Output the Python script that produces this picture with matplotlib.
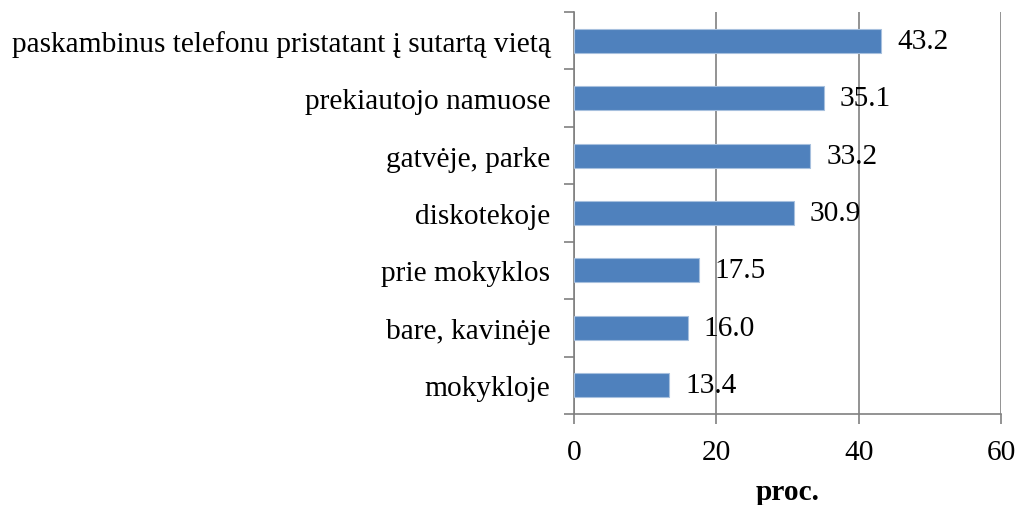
import matplotlib
matplotlib.use("Agg")
import matplotlib.pyplot as plt

categories = ["paskambinus telefonu pristatant į sutartą vietą", "prekiautojo namuose",
              "gatvėje, parke", "diskotekoje", "prie mokyklos", "bare, kavinėje", "mokykloje"]
values = [43.2, 35.1, 33.2, 30.9, 17.5, 16.0, 13.4]
xticks = [0, 20, 40, 60]

plt.rcParams['font.family'] = ['Liberation Serif', 'DejaVu Serif']
fs = 21.2
fig = plt.figure(figsize=(10.19, 5.06), dpi=100)
ax = fig.add_axes([574/1019, 1-415/506, (1001-574)/1019, (415-13)/506])

n = len(categories)
ypos = list(range(n))[::-1]
ax.barh(ypos, values, height=0.42, color='#4F81BD', edgecolor='#A7C0DE', linewidth=0.8, zorder=3)
for y, v in zip(ypos, values):
    ax.annotate(f"{v:.1f}", (v, y), xytext=(16, 0), textcoords='offset pixels',
                va='center', ha='left', fontsize=fs, zorder=4)

ax.set_xlim(0, 60)
ax.set_ylim(-0.5, n - 0.5)
ax.set_xticks(xticks)
ax.set_xticklabels([str(t) for t in xticks], fontsize=fs)
ax.set_yticks(ypos)
ax.set_yticklabels(categories, fontsize=fs)
ax.set_yticks([i - 0.5 for i in range(n + 1)], minor=True)
ax.tick_params(axis='y', which='major', length=0, pad=17)
ax.tick_params(axis='y', which='minor', length=7, color='#808080', width=1.2)
ax.tick_params(axis='x', which='major', length=7, color='#808080', width=1.2, pad=11)
ax.grid(axis='x', color='#808080', linewidth=1.2, zorder=0)
for s in ['top', 'right']:
    ax.spines[s].set_visible(False)
for s in ['left', 'bottom']:
    ax.spines[s].set_color('#808080')
    ax.spines[s].set_linewidth(1.2)
ax.set_xlabel("proc.", fontsize=fs, fontweight='bold', labelpad=9)

fig.savefig("out.png", dpi=100)
